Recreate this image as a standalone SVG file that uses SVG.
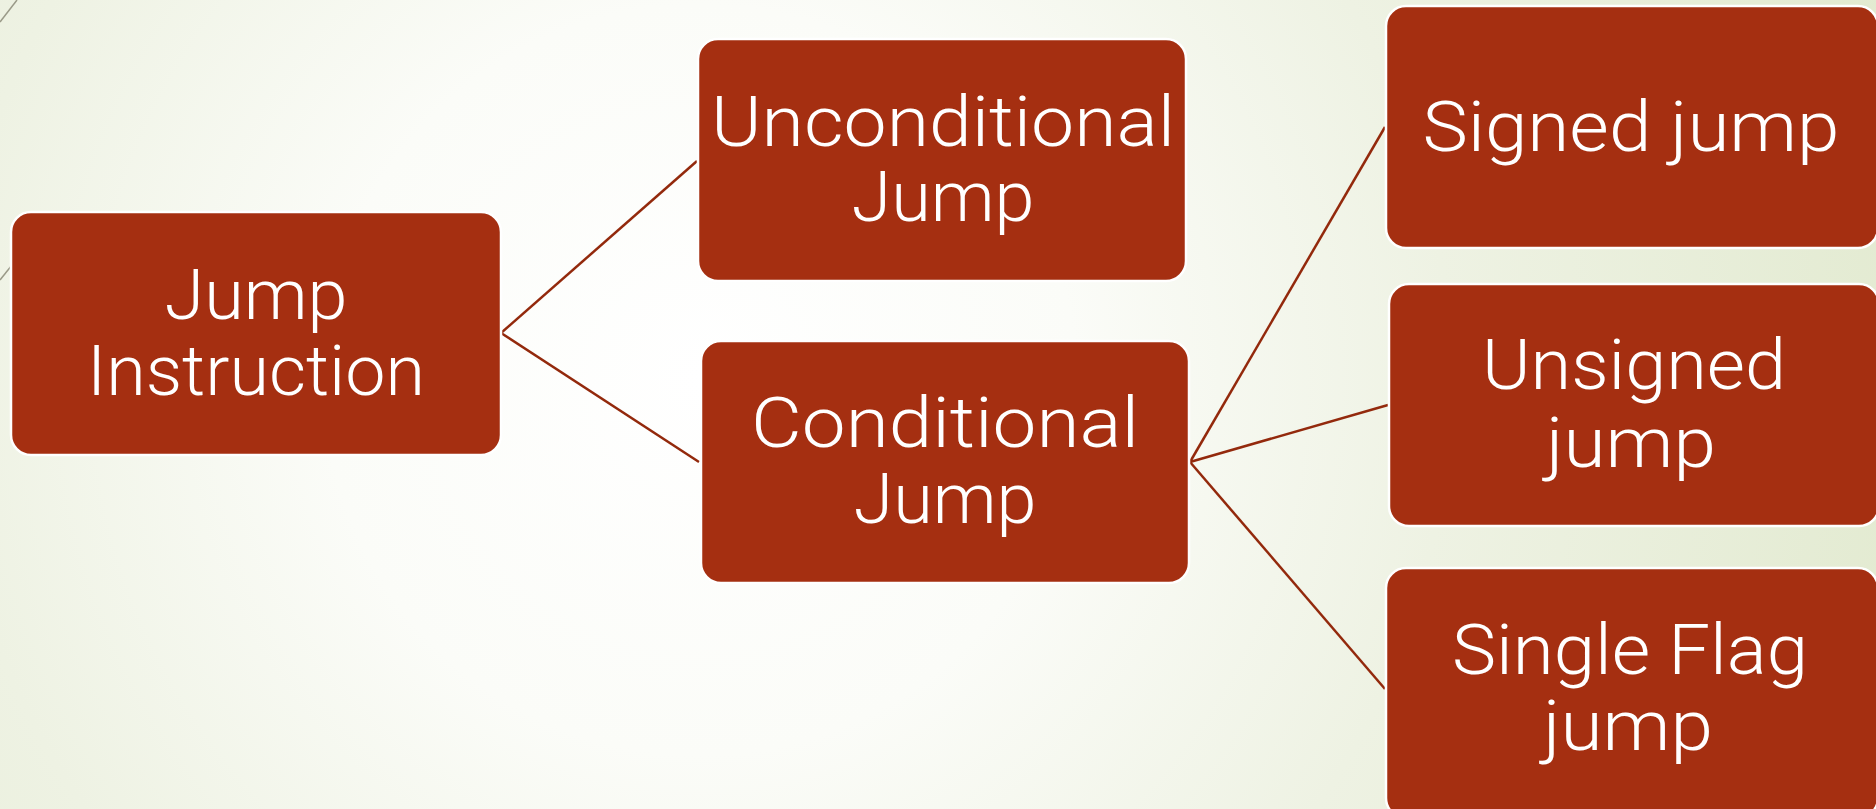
<svg xmlns="http://www.w3.org/2000/svg" width="1876" height="809" viewBox="0 0 1876 809">
  <defs>
    <radialGradient id="bg" gradientUnits="userSpaceOnUse" cx="700" cy="380" r="1250">
      <stop offset="0" stop-color="#ffffff"/>
      <stop offset="0.3" stop-color="#fbfcf8"/>
      <stop offset="0.6" stop-color="#eef2e3"/>
      <stop offset="1" stop-color="#e2ead0"/>
    </radialGradient>
  </defs>
  <style>
    .box { fill: #A52F11; stroke: #ffffff; stroke-width: 2.5; }
    .lbl { fill: #ffffff; font-family: "Roboto", "Inter", "DejaVu Sans", sans-serif; font-weight: 300; font-size: 70px; text-anchor: middle; font-variant-ligatures: none; }
    .conn { stroke: #93290C; stroke-width: 2.5; fill: none; }
    .deco { stroke: #9a9a88; stroke-width: 1.5; fill: none; }
  </style>
  <rect x="0" y="0" width="1876" height="809" fill="url(#bg)"/>
  <g id="decoration">
    <line class="deco" x1="0" y1="22" x2="17" y2="0"/>
    <line class="deco" x1="0" y1="280" x2="12" y2="265"/>
  </g>
  <g id="connectors">
    <line class="conn" x1="501" y1="333" x2="697" y2="161"/>
    <line class="conn" x1="501" y1="333" x2="699" y2="462"/>
    <line class="conn" x1="1190" y1="462" x2="1385" y2="127"/>
    <line class="conn" x1="1190" y1="462" x2="1388" y2="405"/>
    <line class="conn" x1="1190" y1="462" x2="1385" y2="689"/>
  </g>
  <g id="node-jump-instruction">
    <rect class="box" x="11" y="212" width="490" height="243" rx="20"/>
    <text class="lbl" x="256" y="319" textLength="183" lengthAdjust="spacingAndGlyphs">Jump</text>
    <text class="lbl" x="256" y="395" textLength="338" lengthAdjust="spacingAndGlyphs">Instruction</text>
  </g>
  <g id="node-unconditional">
    <rect class="box" x="698" y="39" width="488" height="242" rx="20"/>
    <text class="lbl" x="943" y="146" textLength="464" lengthAdjust="spacingAndGlyphs">Unconditional</text>
    <text class="lbl" x="943" y="221" textLength="183" lengthAdjust="spacingAndGlyphs">Jump</text>
  </g>
  <g id="node-conditional">
    <rect class="box" x="701" y="341" width="488" height="242" rx="20"/>
    <text class="lbl" x="945" y="447" textLength="388" lengthAdjust="spacingAndGlyphs">Conditional</text>
    <text class="lbl" x="945" y="523" textLength="183" lengthAdjust="spacingAndGlyphs">Jump</text>
  </g>
  <g id="node-signed">
    <rect class="box" x="1386" y="6" width="492" height="242" rx="20"/>
    <text class="lbl" x="1631" y="151" textLength="417" lengthAdjust="spacingAndGlyphs">Signed jump</text>
  </g>
  <g id="node-unsigned">
    <rect class="box" x="1389" y="284" width="490" height="242" rx="20"/>
    <text class="lbl" x="1634" y="389" textLength="304" lengthAdjust="spacingAndGlyphs">Unsigned</text>
    <text class="lbl" x="1631" y="467" textLength="170" lengthAdjust="spacingAndGlyphs">jump</text>
  </g>
  <g id="node-single-flag">
    <rect class="box" x="1386" y="568" width="492" height="250" rx="20"/>
    <text class="lbl" x="1630" y="674" textLength="356" lengthAdjust="spacingAndGlyphs">Single Flag</text>
    <text class="lbl" x="1628" y="750" textLength="170" lengthAdjust="spacingAndGlyphs">jump</text>
  </g>
</svg>
